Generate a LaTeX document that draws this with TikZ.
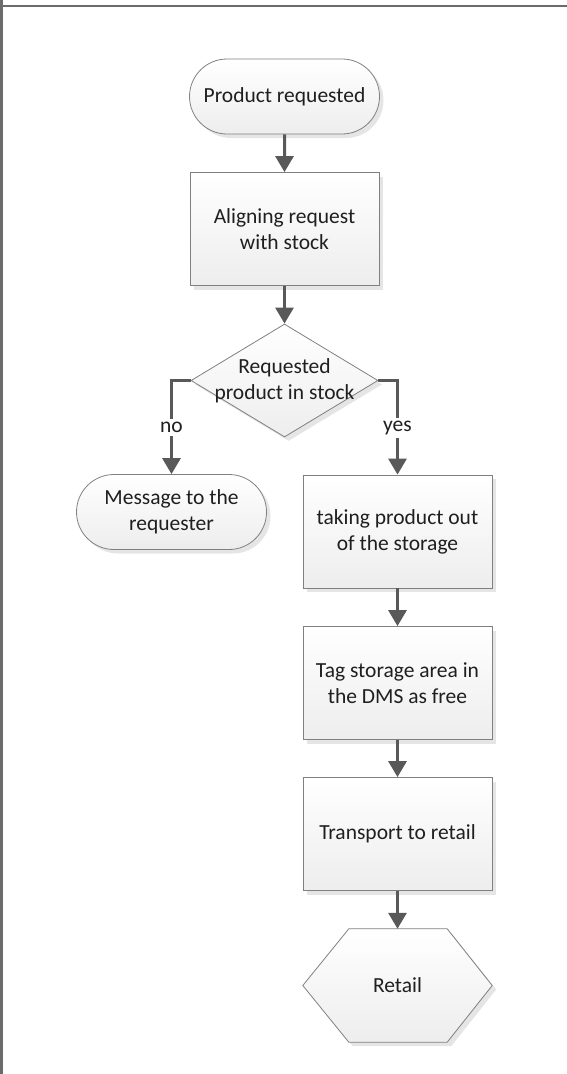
\documentclass[tikz,border=0pt]{standalone}
\usepackage{fontspec}
\setmainfont{Carlito}
\usetikzlibrary{shapes.geometric,shapes.misc,arrows.meta,shadows,calc}
\begin{document}
\begin{tikzpicture}[x=1pt,y=-1pt,
  txt/.style={font=\fontsize{21.5}{26}\selectfont, align=center, text=black!88, inner sep=0pt},
  base/.style={txt, draw=black!50, line width=0.8pt, top color=white, bottom color=black!7,
    drop shadow={shadow xshift=4pt, shadow yshift=-4pt, fill=black!10, opacity=1}},
  term/.style={base, rounded rectangle, minimum width=190pt, minimum height=75pt},
  proc/.style={base, rectangle, minimum width=189pt, minimum height=113pt},
  dec/.style={base, diamond, minimum width=187pt, minimum height=113pt},
  conn/.style={draw=black!65, line width=3pt, -{Triangle[length=16pt,width=18pt]}},
  lab/.style={txt, fill=white, inner sep=3pt},
  frame/.style={draw=black!58, line width=2.6pt}
]
\useasboundingbox (0,0) rectangle (567,1074);
\draw[frame] (1.2,1074) -- (1.2,0);
\draw[frame] (0,6) -- (567,6);

\node[term] (pr) at (284.5,96.5) {Product requested};
\node[proc] (al) at (284.5,229) {Aligning request\\with stock};
\node[dec] (d) at (284.5,380.5) {};
\node[txt] (dq) at (284.5,380.5) {Requested\\product in stock};
\node[term] (msg) at (171.5,512) {Message to the\\requester};
\node[proc] (take) at (397.5,531.5) {taking product out\\of the storage};
\node[proc] (tag) at (397.5,683) {Tag storage area in\\the DMS as free};
\node[proc] (trans) at (397.5,834) {Transport to retail};
\node[txt, minimum width=189pt, minimum height=113pt] (retail) at (397.5,985.5) {};
\path[base] (retail.west) -- ($(retail.north west)+(46,0)$) -- ($(retail.north east)+(-45,0)$)
  -- (retail.east) -- ($(retail.south east)+(-45,0)$) -- ($(retail.south west)+(46,0)$) -- cycle;
\node[txt] (rt) at (retail.center) {Retail};

\draw[conn] (pr) -- (al);
\draw[conn] (al) -- (d);
\draw[conn] (d.west) -| node[lab, pos=0.75] {no} (msg.north);
\draw[conn] (d.east) -| node[lab, pos=0.75] {yes} (take.north);
\draw[conn] (take) -- (tag);
\draw[conn] (tag) -- (trans);
\draw[conn] (trans) -- (retail);
\end{tikzpicture}
\end{document}
